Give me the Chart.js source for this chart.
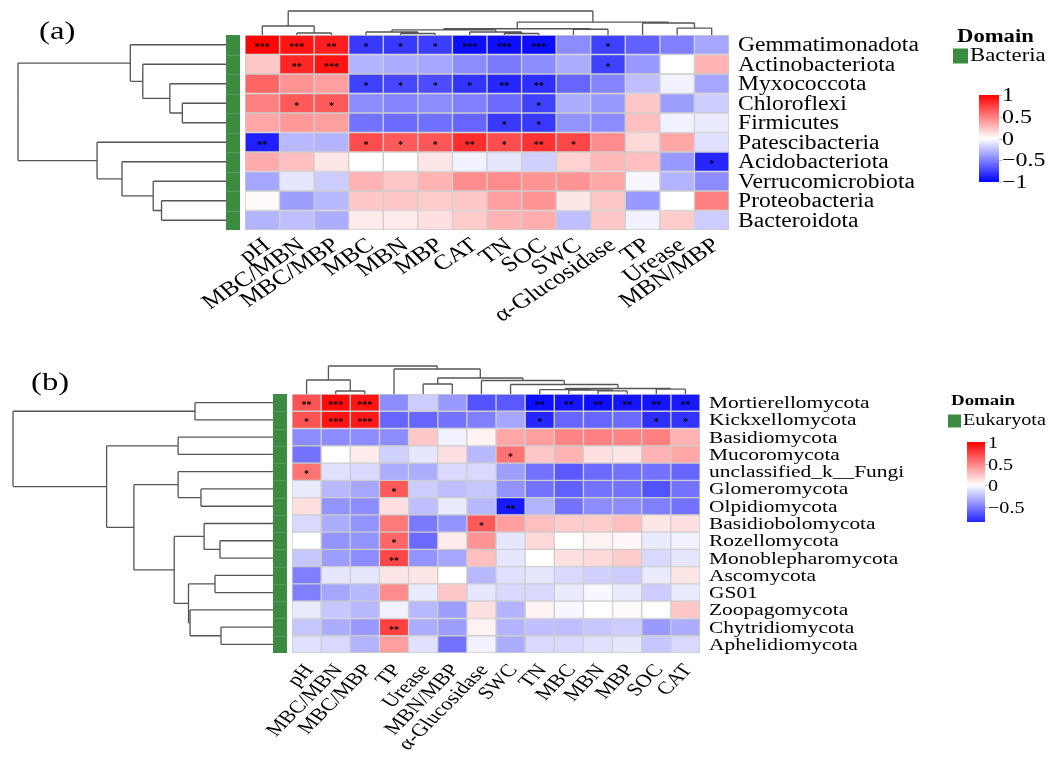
<!DOCTYPE html>
<html>
<head>
<meta charset="utf-8">
<script src="https://cdn.jsdelivr.net/npm/chart.js@4.4.1/dist/chart.umd.min.js"></script>
<style>
  body { margin: 0; background: #fff; }
  #wrap { position: relative; width: 1061px; height: 757px; }
  canvas { position: absolute; left: 0; }
</style>
</head>
<body>
<div id="wrap">
  <canvas id="chartA" width="1061" height="345" style="top:0"></canvas>
  <canvas id="chartB" width="1061" height="412" style="top:345px"></canvas>
</div>
<script>
// ---------- (a) Bacteria ----------
const bactRows = ['Gemmatimonadota', 'Actinobacteriota', 'Myxococcota', 'Chloroflexi', 'Firmicutes',
    'Patescibacteria', 'Acidobacteriota', 'Verrucomicrobiota', 'Proteobacteria', 'Bacteroidota'];
const bactCols = ['pH', 'MBC/MBN', 'MBC/MBP', 'MBC', 'MBN', 'MBP', 'CAT', 'TN', 'SOC', 'SWC',
    'α-Glucosidase', 'TP', 'Urease', 'MBN/MBP'];
// one row per phylum, same order as bactCols
const bactCorr = [
    [0.98, 0.92, 0.88, -0.78, -0.78, -0.76, -0.95, -0.95, -0.95, -0.45, -0.75, -0.62, -0.5, -0.35],
    [0.22, 0.85, 0.92, -0.3, -0.32, -0.35, -0.45, -0.52, -0.45, -0.32, -0.75, -0.4, 0.0, 0.3],
    [0.6, 0.42, 0.38, -0.75, -0.72, -0.7, -0.8, -0.85, -0.82, -0.6, -0.48, -0.25, -0.05, -0.35],
    [0.5, 0.65, 0.65, -0.45, -0.48, -0.45, -0.5, -0.58, -0.75, -0.32, -0.4, 0.22, -0.38, -0.2],
    [0.35, 0.4, 0.38, -0.55, -0.58, -0.56, -0.6, -0.78, -0.78, -0.42, -0.45, 0.25, -0.05, -0.08],
    [-0.88, -0.28, -0.3, 0.7, 0.65, 0.66, 0.82, 0.7, 0.8, 0.72, 0.45, 0.15, 0.35, -0.12],
    [0.33, 0.25, 0.1, 0.0, 0.0, 0.1, -0.05, -0.1, -0.18, 0.18, 0.28, 0.25, -0.4, -0.85],
    [-0.35, -0.1, -0.2, 0.3, 0.22, 0.3, 0.45, 0.45, 0.42, 0.42, 0.35, -0.03, -0.3, -0.45],
    [0.02, -0.38, -0.28, 0.22, 0.22, 0.2, 0.22, 0.38, 0.42, 0.1, 0.22, -0.4, 0.0, 0.5],
    [-0.3, -0.25, -0.32, 0.08, 0.08, 0.12, 0.2, 0.3, 0.32, -0.25, 0.22, -0.05, 0.2, -0.2]
];
// [row, col, significance]
const bactStars = [
    [0, 0, '***'], [0, 1, '***'], [0, 2, '**'], [0, 3, '*'], [0, 4, '*'], [0, 5, '*'],
    [0, 6, '***'], [0, 7, '***'], [0, 8, '***'], [0, 10, '*'],
    [1, 1, '**'], [1, 2, '***'], [1, 10, '*'],
    [2, 3, '*'], [2, 4, '*'], [2, 5, '*'], [2, 6, '*'], [2, 7, '**'], [2, 8, '**'],
    [3, 1, '*'], [3, 2, '*'], [3, 8, '*'],
    [4, 7, '*'], [4, 8, '*'],
    [5, 0, '**'], [5, 3, '*'], [5, 4, '*'], [5, 5, '*'], [5, 6, '**'], [5, 7, '*'], [5, 8, '**'], [5, 9, '*'],
    [6, 13, '*']
];
// clustering trees: [left, right, relative height], leaves are indices
const bactRowTree = [[0, [1, [2, [3, 4, 0.21], 0.27], 0.40], 0.46],
    [5, [6, [7, [8, 9, 0.31], 0.35], 0.50], 0.62], 1.0];
const bactColTree = [[0, [1, 2, 0.083], 0.375],
    [[[[3, [4, 5, 0.0625], 0.125], [6, [7, 8, 0.0625], 0.125], 0.21], [9, 10, 0.24], 0.26],
     [11, [12, 13, 0.29], 0.5], 0.54], 1.0];
const bactLegendTicks = [1, 0.5, 0, -0.5, -1];

// ---------- (b) Eukaryota ----------
const fungiRows = ['Mortierellomycota', 'Kickxellomycota', 'Basidiomycota', 'Mucoromycota',
    'unclassified_k__Fungi', 'Glomeromycota', 'Olpidiomycota', 'Basidiobolomycota', 'Rozellomycota',
    'Monoblepharomycota', 'Ascomycota', 'GS01', 'Zoopagomycota', 'Chytridiomycota', 'Aphelidiomycota'];
const fungiCols = ['pH', 'MBC/MBN', 'MBC/MBP', 'TP', 'Urease', 'MBN/MBP', 'α-Glucosidase', 'SWC',
    'TN', 'MBC', 'MBN', 'MBP', 'SOC', 'CAT'];
const fungiCorr = [
    [0.68, 0.95, 0.92, -0.45, -0.2, -0.4, -0.68, -0.65, -0.95, -0.92, -0.95, -0.92, -0.92, -0.9],
    [0.68, 0.92, 0.9, -0.6, -0.6, -0.55, -0.5, -0.35, -0.85, -0.6, -0.6, -0.58, -0.82, -0.8],
    [-0.45, -0.45, -0.45, -0.45, 0.22, -0.05, 0.05, 0.35, 0.38, 0.48, 0.5, 0.48, 0.5, 0.3],
    [-0.55, 0.0, 0.08, -0.18, -0.1, 0.12, -0.28, 0.55, 0.22, 0.3, 0.12, 0.1, 0.3, 0.35],
    [0.55, -0.12, -0.15, -0.32, -0.32, -0.15, -0.15, -0.38, -0.55, -0.65, -0.58, -0.55, -0.55, -0.6],
    [-0.08, -0.28, -0.35, 0.65, -0.2, -0.25, -0.22, -0.42, -0.55, -0.62, -0.55, -0.55, -0.68, -0.55],
    [0.12, -0.42, -0.45, 0.12, -0.25, -0.08, -0.28, -0.9, -0.3, -0.55, -0.45, -0.45, -0.5, -0.55],
    [-0.15, -0.32, -0.42, 0.52, -0.52, -0.42, 0.65, 0.38, 0.25, 0.2, 0.2, 0.25, 0.1, 0.12],
    [0.0, -0.42, -0.42, 0.6, -0.58, 0.08, 0.42, -0.1, 0.15, 0.0, 0.05, 0.03, -0.08, -0.05],
    [-0.22, -0.38, -0.45, 0.72, -0.42, -0.35, 0.25, -0.1, 0.0, 0.12, 0.15, 0.2, -0.15, -0.1],
    [-0.5, -0.1, -0.1, 0.1, 0.1, 0.0, -0.28, -0.12, -0.1, -0.15, -0.18, -0.2, -0.08, 0.1],
    [-0.5, -0.35, -0.28, 0.45, -0.08, 0.22, -0.1, -0.15, -0.15, -0.08, -0.03, -0.08, -0.2, -0.08],
    [-0.08, -0.22, -0.28, -0.05, -0.28, -0.38, 0.12, -0.3, 0.05, -0.03, 0.0, 0.02, 0.0, 0.22],
    [-0.22, -0.32, -0.4, 0.75, -0.32, -0.38, 0.05, -0.3, -0.25, -0.25, -0.22, -0.2, -0.4, -0.32],
    [-0.12, -0.15, -0.3, 0.38, -0.12, -0.55, -0.05, -0.32, -0.15, -0.15, -0.12, -0.1, -0.22, -0.15]
];
const fungiStars = [
    [0, 0, '**'], [0, 1, '***'], [0, 2, '***'], [0, 8, '**'], [0, 9, '**'], [0, 10, '**'],
    [0, 11, '**'], [0, 12, '**'], [0, 13, '**'],
    [1, 0, '*'], [1, 1, '***'], [1, 2, '***'], [1, 8, '*'], [1, 12, '*'], [1, 13, '*'],
    [3, 7, '*'], [4, 0, '*'], [5, 3, '*'], [6, 7, '**'], [7, 6, '*'], [8, 3, '*'],
    [9, 3, '**'], [13, 3, '**']
];
const fungiRowTree = [[0, 1, 0.30],
    [[2, 3, 0.365],
     [[4, [5, 6, 0.277], 0.365],
      [[7, [8, 9, 0.204], 0.265], [[10, 11, 0.223], [12, [13, 14, 0.2], 0.319], 0.325], 0.38],
      0.535], 0.64], 1.0];
const fungiColTree = [[0, [1, 2, 0.107], 0.5],
    [3, [[4, 5, 0.357],
         [6, [7, [[8, [9, [10, 11, 0.114], 0.136], 0.154], [12, 13, 0.171], 0.196], 0.339], 0.482],
         0.571], 0.893], 1.0];
const fungiLegendTicks = [1, 0.5, 0, -0.5];

const SERIF = "'Liberation Serif', 'Times New Roman', serif";
const DOMAIN_GREEN = '#3b8b40';
const TREE_COLOR = '#555555';
const SX = 1.26; // horizontal stretch of the original figure

function corrColor(v) {
    const t = Math.max(-1, Math.min(1, v));
    if (t >= 0) {
        const c = Math.round(255 * (1 - t));
        return `rgb(255,${c},${c})`;
    }
    const c = Math.round(255 * (1 + t));
    return `rgb(${c},${c},255)`;
}

function stretchText(ctx, text, x, y, o) {
    const sx = o.sx || SX;
    ctx.save();
    ctx.translate(x, y);
    ctx.scale(sx, 1);
    if (o.angle) {
        // keep the apparent angle after the stretch
        const a = Math.atan(Math.tan(o.angle * Math.PI / 180) * sx);
        ctx.rotate(-a);
    }
    ctx.font = o.font;
    ctx.fillStyle = o.color || '#000';
    ctx.textAlign = o.align || 'left';
    ctx.textBaseline = o.baseline || 'middle';
    ctx.fillText(text, 0, 0);
    ctx.restore();
}

function drawTree(ctx, tree, leafPos, base, span, alongY) {
    const pt = (p, h) => alongY ? [base - h * span, p] : [p, base - h * span];
    const seg = (a, b) => {
        ctx.moveTo(a[0], a[1]);
        ctx.lineTo(b[0], b[1]);
    };
    function walk(node) {
        if (typeof node === 'number') return { p: leafPos(node), h: 0 };
        const l = walk(node[0]), r = walk(node[1]), h = node[2];
        seg(pt(l.p, l.h), pt(l.p, h));
        seg(pt(r.p, r.h), pt(r.p, h));
        seg(pt(l.p, h), pt(r.p, h));
        return { p: (l.p + r.p) / 2, h };
    }
    ctx.save();
    ctx.beginPath();
    walk(tree);
    ctx.strokeStyle = TREE_COLOR;
    ctx.lineWidth = 1.3;
    ctx.stroke();
    ctx.restore();
}

function heatmapDecor(p) {
    return {
        id: 'heatmapDecor',
        afterDraw(chart) {
            const { ctx, chartArea: area, scales: { x, y } } = chart;

            // significance marks
            ctx.save();
            ctx.fillStyle = '#000';
            ctx.font = `bold 10px ${SERIF}`;
            ctx.textAlign = 'center';
            ctx.textBaseline = 'middle';
            p.stars.forEach(([i, j, s]) => {
                ctx.fillText(s, x.getPixelForValue(j + 0.5), y.getPixelForValue(i) + 3);
            });
            ctx.restore();

            // domain annotation bar
            const barRight = area.left - p.barGap;
            const barLeft = barRight - p.barWidth;
            ctx.fillStyle = DOMAIN_GREEN;
            ctx.fillRect(barLeft, area.top, p.barWidth, area.bottom - area.top);
            ctx.strokeStyle = 'rgba(255,255,255,0.15)';
            ctx.lineWidth = 1;
            for (let i = 1; i < p.rows.length; i++) {
                const yy = Math.round((y.getPixelForValue(i - 1) + y.getPixelForValue(i)) / 2) + 0.5;
                ctx.beginPath();
                ctx.moveTo(barLeft, yy);
                ctx.lineTo(barRight, yy);
                ctx.stroke();
            }

            // dendrograms
            drawTree(ctx, p.rowTree, i => y.getPixelForValue(i), barLeft, p.rowTreeSpan, true);
            drawTree(ctx, p.colTree, j => x.getPixelForValue(j + 0.5), area.top, p.colTreeSpan, false);

            // row labels
            p.rows.forEach((r, i) => {
                stretchText(ctx, r, area.right + 9, y.getPixelForValue(i) + 1,
                    { font: `${p.rowFont}px ${SERIF}`, sx: p.rowSx });
            });
            // column labels
            p.cols.forEach((c, j) => {
                stretchText(ctx, c, x.getPixelForValue(j + 0.5) + p.colDx, area.bottom + p.colDy,
                    { font: `${p.colFont}px ${SERIF}`, angle: p.colAngle, align: 'right', sx: p.colSx });
            });

            // panel tag
            stretchText(ctx, p.tag, p.tagPos[0], p.tagPos[1], { font: `${p.tagFont}px ${SERIF}` });

            // domain legend
            const lg = p.legend;
            stretchText(ctx, 'Domain', lg.titleX, lg.titleY, { font: `bold ${lg.titleFont}px ${SERIF}` });
            ctx.fillStyle = DOMAIN_GREEN;
            ctx.fillRect(lg.keyX, lg.keyY - lg.keySize / 2, lg.keySize, lg.keySize);
            stretchText(ctx, p.domain, lg.keyX + lg.keySize + 2, lg.keyY, { font: `${lg.font}px ${SERIF}` });

            // colour bar
            const cb = p.colorbar;
            const toY = v => cb.top + (1 - v) * (cb.bottom - cb.top) / (1 - cb.vmin);
            const grad = ctx.createLinearGradient(0, cb.top, 0, cb.bottom);
            [1, 0.5, 0, -0.5, cb.vmin].forEach(v => {
                grad.addColorStop((toY(v) - cb.top) / (cb.bottom - cb.top), corrColor(v));
            });
            ctx.fillStyle = grad;
            ctx.fillRect(cb.x, cb.top, cb.width, cb.bottom - cb.top);
            ctx.strokeStyle = '#bbbbbb';
            ctx.lineWidth = 1;
            p.legendTicks.forEach(v => {
                const ty = Math.round(toY(v)) + 0.5;
                ctx.beginPath();
                ctx.moveTo(cb.x + cb.width, ty);
                ctx.lineTo(cb.x + cb.width + 3, ty);
                ctx.stroke();
                const txt = v < 0 ? '\u2212' + Math.abs(v) : String(v);
                stretchText(ctx, txt, cb.x + cb.width + 3, ty + 1, { font: `${cb.font}px ${SERIF}` });
            });
        }
    };
}

function makeHeatmap(canvasId, p) {
    const datasets = p.cols.map((col, j) => ({
        label: col,
        data: p.rows.map(() => 1),
        backgroundColor: p.rows.map((_, i) => corrColor(p.corr[i][j])),
        borderColor: '#cdcdcd',
        borderWidth: 1,
        borderSkipped: false,
        barPercentage: 1,
        categoryPercentage: 1
    }));
    const ctx = document.getElementById(canvasId).getContext('2d');
    return new Chart(ctx, {
        type: 'bar',
        data: { labels: p.rows, datasets },
        options: {
            indexAxis: 'y',
            responsive: false,
            animation: false,
            devicePixelRatio: 1,
            layout: { padding: p.padding },
            plugins: {
                legend: { display: false },
                tooltip: { enabled: false }
            },
            scales: {
                x: { type: 'linear', stacked: true, min: 0, max: p.cols.length, display: false },
                y: { type: 'category', stacked: true, display: false }
            }
        },
        plugins: [heatmapDecor(p)]
    });
}

makeHeatmap('chartA', {
    rows: bactRows, cols: bactCols, corr: bactCorr, stars: bactStars,
    rowTree: bactRowTree, colTree: bactColTree, legendTicks: bactLegendTicks,
    padding: { left: 245, top: 35, right: 332, bottom: 115 },
    barGap: 5, barWidth: 14, rowTreeSpan: 208, colTreeSpan: 24,
    rowFont: 20, rowSx: 1.18, colFont: 21, colSx: 1.22, colAngle: 33, colDx: 5, colDy: 13,
    tag: '(a)', tagPos: [39, 32], tagFont: 26, domain: 'Bacteria',
    legend: { titleX: 957, titleY: 37, titleFont: 18, keyX: 953, keyY: 56, keySize: 15, font: 18 },
    colorbar: { x: 979, width: 20, top: 95, bottom: 182, vmin: -1, font: 19 }
});

makeHeatmap('chartB', {
    rows: fungiRows, cols: fungiCols, corr: fungiCorr, stars: fungiStars,
    rowTree: fungiRowTree, colTree: fungiColTree, legendTicks: fungiLegendTicks,
    padding: { left: 292, top: 49, right: 361, bottom: 104 },
    barGap: 5, barWidth: 14, rowTreeSpan: 260, colTreeSpan: 28,
    rowFont: 17, rowSx: 1.26, colFont: 18, colSx: 1.26, colAngle: 45, colDx: 3, colDy: 14,
    tag: '(b)', tagPos: [31, 38], tagFont: 26, domain: 'Eukaryota',
    legend: { titleX: 951, titleY: 56, titleFont: 15, keyX: 948, keyY: 76, keySize: 13, font: 16 },
    colorbar: { x: 967, width: 18, top: 97, bottom: 177, vmin: -0.86, font: 16 }
});
</script>
</body>
</html>
